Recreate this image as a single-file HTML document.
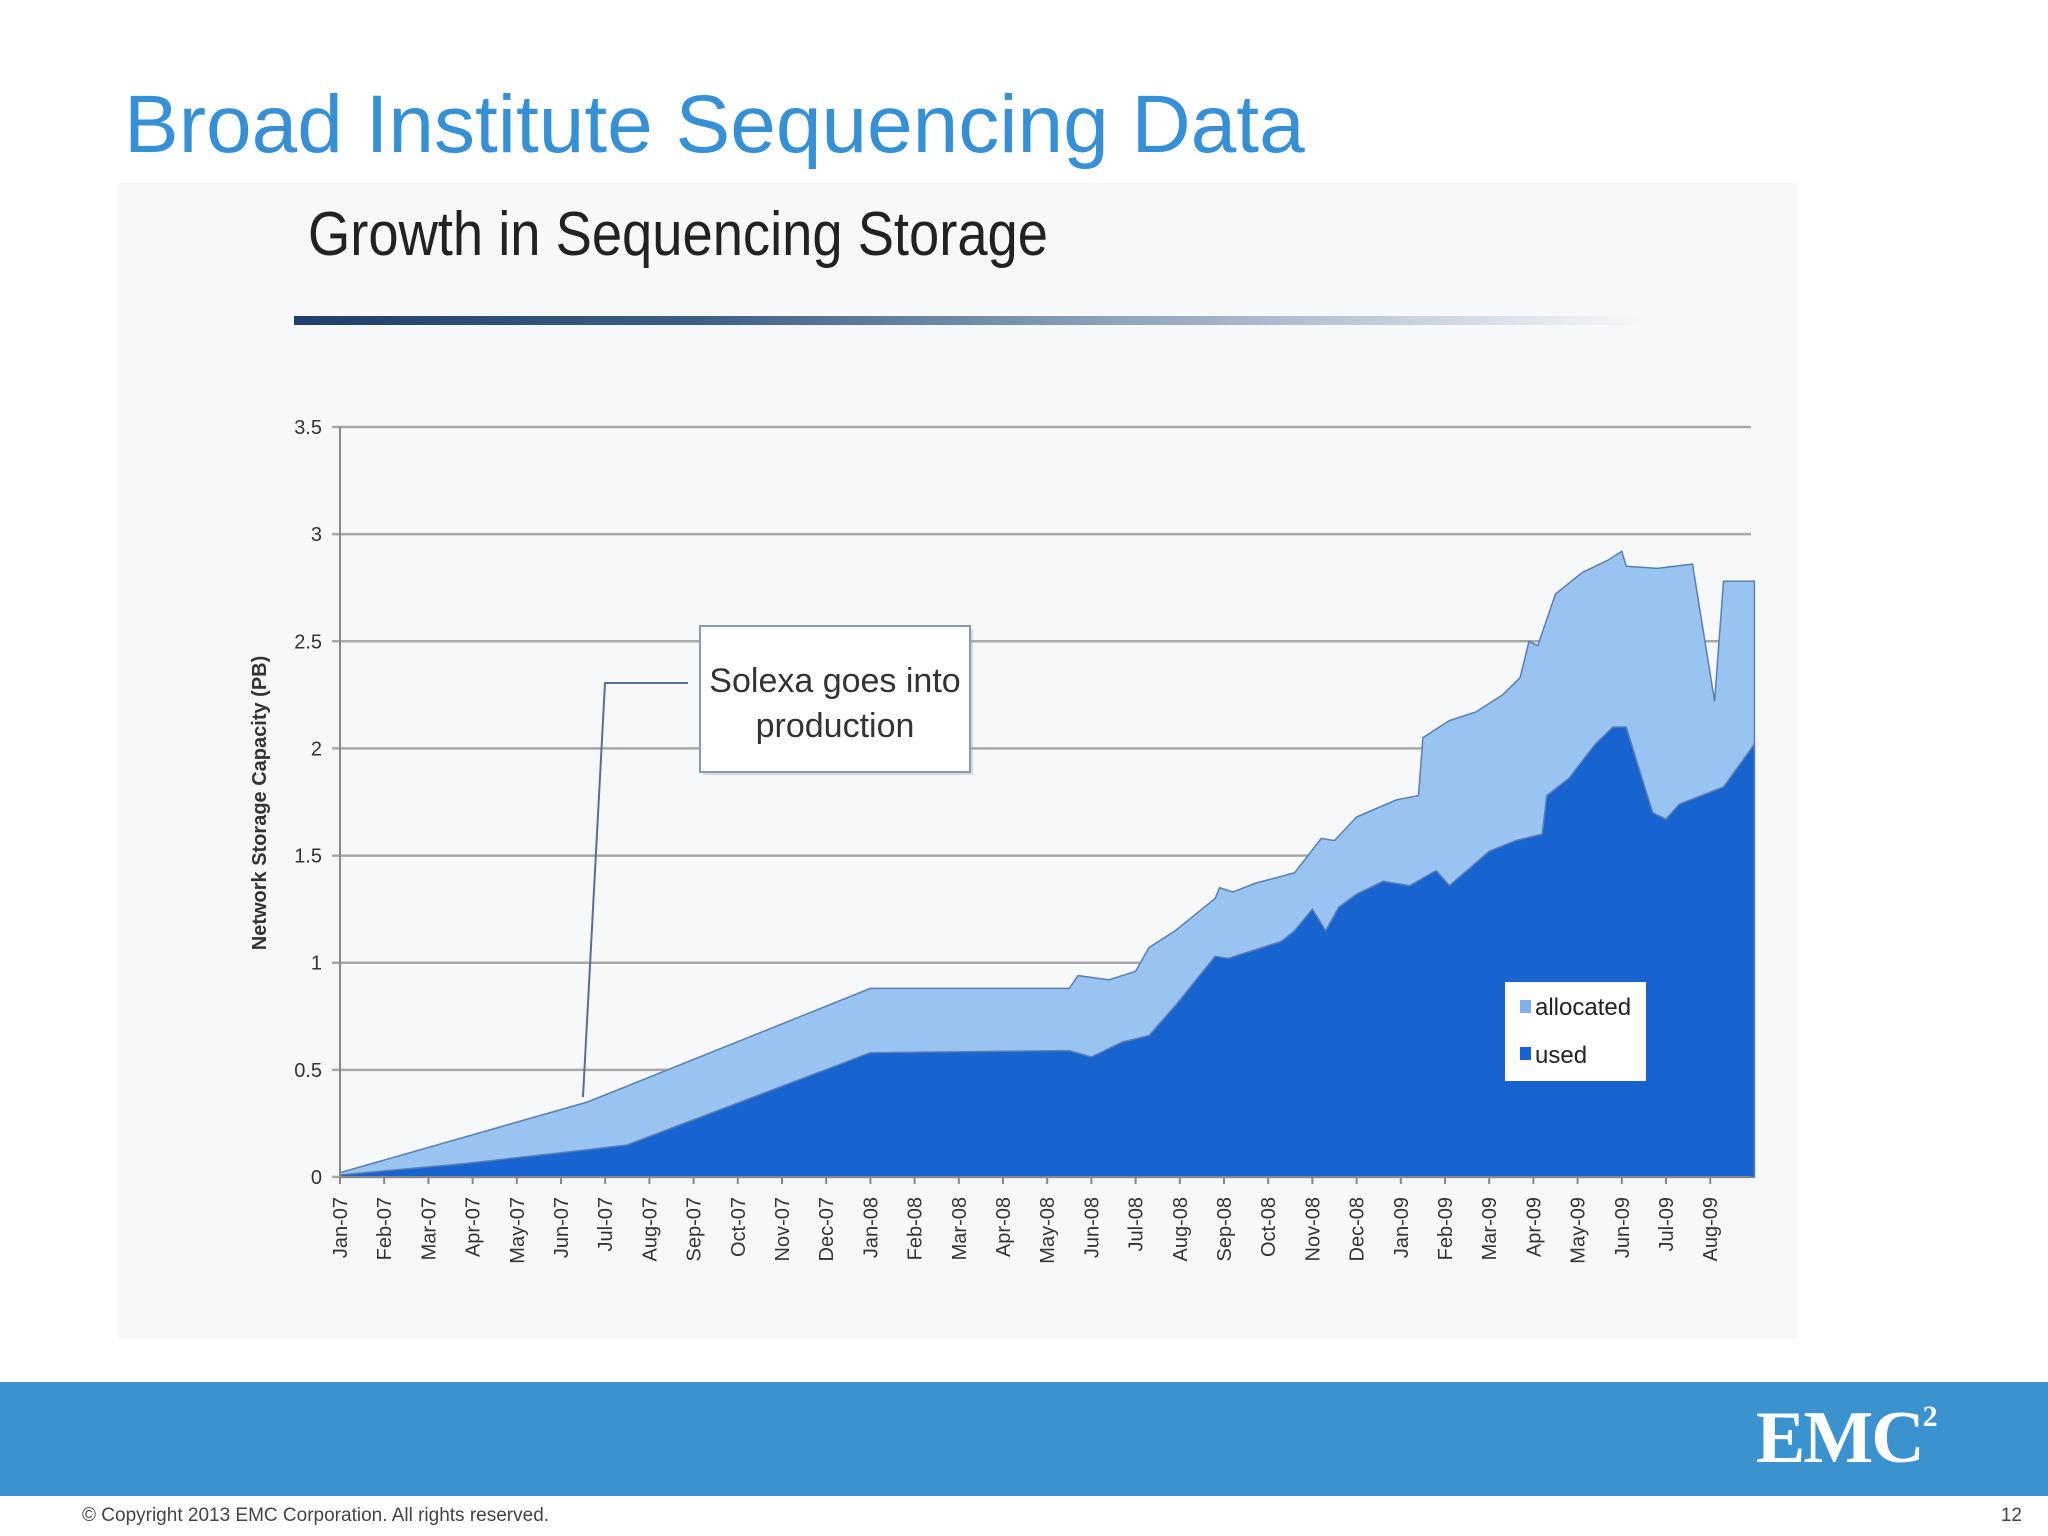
<!DOCTYPE html>
<html><head><meta charset="utf-8">
<style>
body{margin:0;width:2048px;height:1536px;overflow:hidden;background:#fff;font-family:"Liberation Sans",sans-serif;position:relative}
</style></head>
<body>
<div style="position:absolute;left:124px;top:78px;font-size:82px;color:#3590d6;white-space:nowrap">Broad Institute Sequencing Data</div>
<svg id="chart" width="2048" height="1380" style="position:absolute;left:0;top:0">
<defs>
<linearGradient id="deco" x1="0" x2="1"><stop offset="0" stop-color="#1f3f6a"/><stop offset="0.3" stop-color="#3d5f86"/><stop offset="1" stop-color="#3d5f86" stop-opacity="0"/></linearGradient>
</defs>
<rect x="118" y="183" width="1680" height="1156" fill="#f7f8fa"/>
<text x="308" y="255" font-size="62" fill="#222" font-family="Liberation Sans Narrow, Liberation Sans, sans-serif" textLength="740" lengthAdjust="spacingAndGlyphs">Growth in Sequencing Storage</text>
<rect x="294" y="316" width="1352" height="9" fill="url(#deco)"/>
<g id="grid"></g><g id="areas"></g><g id="axes"></g>
<g>
<polyline points="688,683 605,683 583,1097" fill="none" stroke="#5a6f8f" stroke-width="2"/>
<rect x="703" y="629" width="270" height="146" fill="#aab" opacity="0.4"/>
<rect x="700" y="626" width="270" height="146" fill="#fff" stroke="#8a9bb5" stroke-width="2"/>
<text x="835" y="692" font-size="34" fill="#333" text-anchor="middle" font-family="Liberation Sans Narrow, Liberation Sans, sans-serif">Solexa goes into</text>
<text x="835" y="737" font-size="34" fill="#333" text-anchor="middle" font-family="Liberation Sans Narrow, Liberation Sans, sans-serif">production</text>
</g>
<g>
<rect x="1505" y="982" width="141" height="99" fill="#fff"/>
<rect x="1520" y="1000" width="11" height="13" fill="#7fb0e8"/>
<text x="1535" y="1015" font-size="24" fill="#222" font-family="Liberation Sans Narrow, Liberation Sans, sans-serif">allocated</text>
<rect x="1520" y="1047" width="11" height="13" fill="#1763d0"/>
<text x="1535" y="1063" font-size="24" fill="#222" font-family="Liberation Sans Narrow, Liberation Sans, sans-serif">used</text>
</g>
</svg>
<div style="position:absolute;left:0;top:1382px;width:2048px;height:114px;background:#3a93cf"></div>
<div style="position:absolute;left:1756px;top:1396px;color:#fff;font-family:'Liberation Serif',serif;font-weight:bold;font-size:74px;letter-spacing:-2px">EMC<sup style="font-size:30px;vertical-align:36px">2</sup></div>
<div style="position:absolute;left:82px;top:1505px;font-size:19px;color:#444">© Copyright 2013 EMC Corporation. All rights reserved.</div>
<div style="position:absolute;right:26px;top:1505px;font-size:19px;color:#444">12</div>
<script>
const months=["Jan-07","Feb-07","Mar-07","Apr-07","May-07","Jun-07","Jul-07","Aug-07","Sep-07","Oct-07","Nov-07","Dec-07","Jan-08","Feb-08","Mar-08","Apr-08","May-08","Jun-08","Jul-08","Aug-08","Sep-08","Oct-08","Nov-08","Dec-08","Jan-09","Feb-09","Mar-09","Apr-09","May-09","Jun-09","Jul-09","Aug-09"];
const yTicks=[0,0.5,1,1.5,2,2.5,3,3.5];
const yTickLabels=["0","0.5","1","1.5","2","2.5","3","3.5"];
const allocMonth=[0,5.6,12.0,16.5,16.7,17.4,18.0,18.3,18.9,19.8,19.9,20.2,20.7,21.6,21.9,22.2,22.5,23.0,23.9,24.4,24.5,25.1,25.7,26.3,26.7,26.9,27.1,27.5,28.1,28.7,29.0,29.1,29.8,30.6,31.1,31.3,32.0];
const allocValue=[0.02,0.35,0.88,0.88,0.94,0.92,0.96,1.07,1.15,1.30,1.35,1.33,1.37,1.42,1.50,1.58,1.57,1.68,1.76,1.78,2.05,2.13,2.17,2.25,2.33,2.50,2.48,2.72,2.82,2.88,2.92,2.85,2.84,2.86,2.22,2.78,2.78];
const usedMonth=[0,2.7,5.3,6.5,12.0,16.5,17.0,17.7,18.3,18.9,19.8,20.1,21.3,21.6,22.0,22.3,22.6,23.0,23.6,24.2,24.8,25.1,26.0,26.6,27.2,27.3,27.8,28.4,28.8,29.1,29.7,30.0,30.3,31.3,32.0];
const usedValue=[0.01,0.06,0.12,0.15,0.58,0.59,0.56,0.63,0.66,0.80,1.03,1.02,1.10,1.15,1.25,1.15,1.26,1.32,1.38,1.36,1.43,1.36,1.52,1.57,1.60,1.78,1.86,2.02,2.10,2.10,1.70,1.67,1.74,1.82,2.02];
const X0=340,XR=1751,Y0=1177,YT=427;
const xs=m=>X0+m*44.2;
const ys=v=>Y0-(v/3.5)*(Y0-YT);
const NS="http://www.w3.org/2000/svg";
function mk(tag,attrs,parent){const e=document.createElementNS(NS,tag);for(const k in attrs)e.setAttribute(k,attrs[k]);parent.appendChild(e);return e;}
const grid=document.getElementById('grid'),areas=document.getElementById('areas'),axes=document.getElementById('axes');
yTicks.forEach((t,i)=>{
  const l=mk('line',{x1:X0-8,x2:XR,y1:ys(t),y2:ys(t),stroke:'#a8a8a8','stroke-width':2.5},grid);
  
  
  const tx=mk('text',{x:X0-18,y:ys(t)+7,'font-size':20,fill:'#333','text-anchor':'end'},axes);
  tx.textContent=yTickLabels[i];
  
  
});
function area(mArr,vArr,fill,name){
  let d='M'+xs(mArr[0])+','+Y0;
  mArr.forEach((m,i)=>{d+=' L'+xs(m).toFixed(1)+','+ys(vArr[i]).toFixed(1);});
  d+=' L'+xs(mArr[mArr.length-1])+','+Y0+' Z';
  const p=mk('path',{d:d,fill:fill,stroke:'#5a7fb0','stroke-width':1.5},areas);
  
  
}
area(allocMonth,allocValue,'#99c4f2','area-allocated');
area(usedMonth,usedValue,'#1763d0','area-used');
mk('line',{x1:X0,x2:X0,y1:YT,y2:Y0+6,stroke:'#888','stroke-width':2},axes);
mk('line',{x1:X0,x2:XR,y1:Y0,y2:Y0,stroke:'#888','stroke-width':2},axes);
months.forEach((m,i)=>{
  const x=xs(i);
  mk('line',{x1:x,x2:x,y1:Y0,y2:Y0+7,stroke:'#888','stroke-width':2},axes);
  const t=mk('text',{x:0,y:0,'font-size':20,fill:'#333','text-anchor':'end',transform:`translate(${x+7},${Y0+20}) rotate(-90)`},axes);
  t.textContent=m;
  
  
});
const yt=mk('text',{x:0,y:0,'font-size':20,'font-weight':'bold',fill:'#333','text-anchor':'middle',transform:'translate(266,803) rotate(-90)'},axes);
yt.textContent='Network Storage Capacity (PB)';


</script>
</body></html>
